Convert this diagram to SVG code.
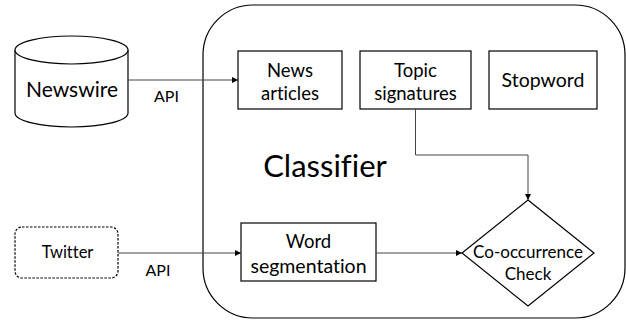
<svg xmlns="http://www.w3.org/2000/svg" width="626" height="320" viewBox="0 0 626 320">
  <style>
    .shape { fill: #ffffff; stroke: #000000; stroke-width: 1.2; }
    .label { font-family: Lato, "Liberation Sans", sans-serif; fill: #000000; text-anchor: middle; font-variant-ligatures: none; }
    .box { font-size: 18.5px; }
    .api { font-size: 16px; }
    .edge { fill: none; stroke: #444444; stroke-width: 1; }
  </style>
  <defs>
    <marker id="arrow" viewBox="0 0 10 10" refX="10" refY="5" markerWidth="6" markerHeight="6" orient="auto" markerUnits="userSpaceOnUse">
      <path d="M0,0 L10,5 L0,10 z" fill="#000000"/>
    </marker>
  </defs>

  <rect width="626" height="320" fill="#ffffff"/>

  <!-- Classifier container -->
  <g id="classifier">
    <rect class="shape" x="203" y="5" width="422" height="313" rx="50" ry="50"/>
    <text class="label" x="325" y="177" font-size="31">Classifier</text>
  </g>

  <!-- Newswire source (database cylinder) -->
  <g id="newswire">
    <path class="shape" d="M15,50 A56.5,14 0 0 1 128,50 L128,113 A56.5,14 0 0 1 15,113 Z"/>
    <path class="shape" fill="none" d="M15,50 A56.5,14 0 0 0 128,50"/>
    <text class="label" x="72" y="97" font-size="21">Newswire</text>
  </g>

  <!-- Twitter source -->
  <g id="twitter">
    <rect class="shape" x="15" y="227" width="103" height="51" rx="7" ry="7" stroke-dasharray="2.5,1.5"/>
    <text class="label" x="67.5" y="258" font-size="16.5">Twitter</text>
  </g>

  <g id="news-articles">
    <rect class="shape" x="238" y="51" width="104" height="58"/>
    <text class="label box" x="290" y="77">News</text>
    <text class="label box" x="290" y="100">articles</text>
  </g>

  <g id="topic-signatures">
    <rect class="shape" x="360" y="51" width="111" height="58"/>
    <text class="label box" x="415.5" y="77">Topic</text>
    <text class="label box" x="415.5" y="100">signatures</text>
  </g>

  <g id="stopword">
    <rect class="shape" x="489" y="51" width="108" height="58"/>
    <text class="label" x="543" y="87" font-size="19.5">Stopword</text>
  </g>

  <g id="word-segmentation">
    <rect class="shape" x="241" y="223" width="135" height="58"/>
    <text class="label box" x="308.5" y="248">Word</text>
    <text class="label" x="308.5" y="273" font-size="19.5">segmentation</text>
  </g>

  <g id="co-occurrence-check">
    <polygon class="shape" points="528,200 594,253 528,306 462,253"/>
    <text class="label" x="528" y="258" font-size="17">Co-occurrence</text>
    <text class="label" x="528" y="280" font-size="17">Check</text>
  </g>

  <!-- Connectors -->
  <g id="connectors">
    <line class="edge" x1="128" y1="80" x2="238" y2="80" marker-end="url(#arrow)"/>
    <text class="label api" x="166.5" y="102">API</text>
    <line class="edge" x1="118" y1="253" x2="241" y2="253" marker-end="url(#arrow)"/>
    <text class="label api" x="158" y="276">API</text>
    <line class="edge" x1="376" y1="253" x2="462" y2="253" marker-end="url(#arrow)"/>
    <polyline class="edge" points="415.5,109 415.5,155 528,155 528,200" marker-end="url(#arrow)"/>
  </g>
</svg>
